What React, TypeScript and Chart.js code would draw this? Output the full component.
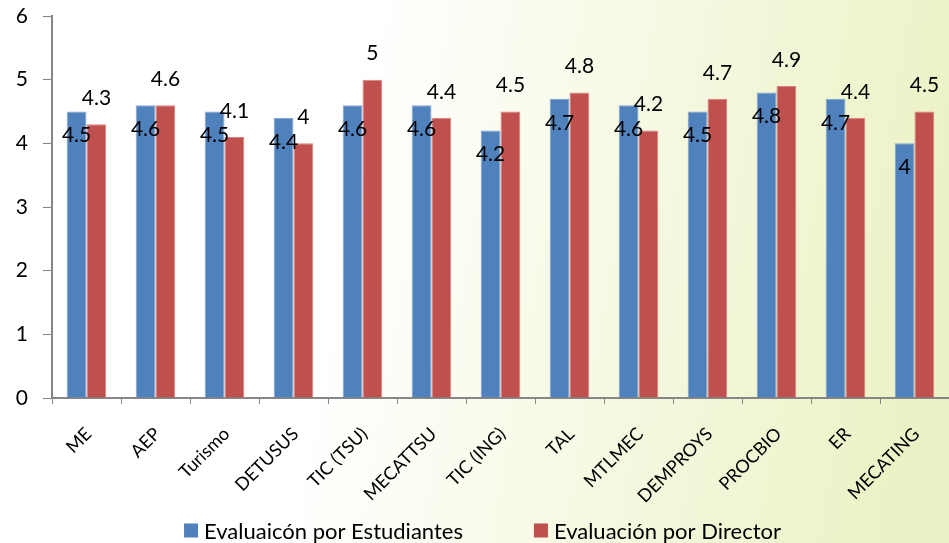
import React, { useEffect, useRef } from "react";
import { Chart, registerables } from "chart.js";

Chart.register(...registerables);

const categories = ["ME", "AEP", "Turismo", "DETUSUS", "TIC (TSU)", "MECATTSU", "TIC (ING)", "TAL", "MTLMEC", "DEMPROYS", "PROCBIO", "ER", "MECATING"];
const estudiantes = [4.5, 4.6, 4.5, 4.4, 4.6, 4.6, 4.2, 4.7, 4.6, 4.5, 4.8, 4.7, 4.0];
const director = [4.3, 4.6, 4.1, 4.0, 5.0, 4.4, 4.5, 4.8, 4.2, 4.7, 4.9, 4.4, 4.5];
const seriesNames = ["Evaluaicón por Estudiantes", "Evaluación por Director"];
const yMin = 0;
const yMax = 6;

const BLUE = "#4F81BD";
const RED = "#C0504D";
const FONT = "Lato, 'Open Sans', sans-serif";

const bgPlugin = {
  id: "bg",
  beforeDraw(chart: any) {
    const { ctx, width, height } = chart;
    ctx.save();
    const g = ctx.createLinearGradient(0, 0, width, height * 0.3);
    g.addColorStop(0, "#FFFFFF");
    g.addColorStop(0.38, "#FFFFFF");
    g.addColorStop(0.62, "#F8FAE8");
    g.addColorStop(1, "#ECF2C6");
    ctx.fillStyle = g;
    ctx.fillRect(0, 0, width, height);
    ctx.restore();
  },
};

const xLabelPlugin = {
  id: "xLabels",
  afterDraw(chart: any) {
    const { ctx, chartArea } = chart;
    const xs = chart.scales.x;
    ctx.save();
    ctx.font = `18px ${FONT}`;
    ctx.fillStyle = "#000";
    ctx.textAlign = "right";
    ctx.textBaseline = "middle";
    categories.forEach((c, i) => {
      const x = xs.getPixelForTick(i) + 2;
      const y = chartArea.bottom + 33;
      ctx.save();
      ctx.translate(x, y);
      ctx.rotate(-Math.PI / 4);
      ctx.fillText(c, 0, 0);
      ctx.restore();
    });
    ctx.restore();
  },
};

const labelPlugin = {
  id: "vals",
  afterDatasetsDraw(chart: any) {
    const { ctx } = chart;
    ctx.save();
    ctx.font = `21px ${FONT}`;
    ctx.fillStyle = "#000";
    ctx.textAlign = "center";
    ctx.textBaseline = "middle";
    chart.data.datasets.forEach((ds: any, di: number) => {
      const meta = chart.getDatasetMeta(di);
      meta.data.forEach((el: any, i: number) => {
        const v = ds.data[i];
        const y = di === 0 ? el.y + 24 : el.y - 26;
        ctx.fillText(String(v), el.x, y);
      });
    });
    ctx.restore();
  },
};

const legendPlugin = {
  id: "legendCustom",
  afterDraw(chart: any) {
    const { ctx } = chart;
    ctx.save();
    ctx.font = `22px ${FONT}`;
    ctx.textBaseline = "middle";
    ctx.textAlign = "left";
    const box = 14;
    const gapText = 6;
    const gapItems = 71;
    const colors = [BLUE, RED];
    const widths = seriesNames.map((n) => box + gapText + ctx.measureText(n).width);
    const total = widths[0] + widths[1] + gapItems;
    let x = 482.5 - total / 2;
    const cy = 530.5;
    seriesNames.forEach((n, i) => {
      ctx.fillStyle = colors[i];
      ctx.fillRect(x, cy - box / 2, box, box);
      ctx.fillStyle = "#000";
      ctx.fillText(n, x + box + gapText, cy + 1);
      x += widths[i] + gapItems;
    });
    ctx.restore();
  },
};

export default function App() {
  const ref = useRef<HTMLCanvasElement>(null);
  useEffect(() => {
    document.body.style.margin = "0";
    const chart = new Chart(ref.current!, {
      type: "bar",
      data: {
        labels: categories,
        datasets: [
          {
            label: seriesNames[0],
            data: estudiantes,
            backgroundColor: BLUE,
            borderColor: "#7FA3D0",
            borderWidth: 1,
            categoryPercentage: 0.574,
            barPercentage: 1,
          },
          {
            label: seriesNames[1],
            data: director,
            backgroundColor: RED,
            borderColor: "#D7807E",
            borderWidth: 1,
            categoryPercentage: 0.574,
            barPercentage: 1,
          },
        ],
      },
      options: {
        animation: false,
        responsive: false,
        devicePixelRatio: 1,
        layout: { padding: { top: 16, left: 0, right: 0, bottom: 0 } },
        plugins: { legend: { display: false }, tooltip: { enabled: false } },
        scales: {
          x: {
            grid: {
              display: true,
              drawOnChartArea: false,
              drawTicks: true,
              tickLength: 6,
              color: "#868686",
              offset: true,
            },
            border: { display: true, color: "#868686", width: 2 },
            ticks: { display: false },
            afterFit(scale: any) {
              scale.height = 145;
              scale.paddingLeft = 0;
              scale.paddingRight = 0;
            },
          },
          y: {
            min: yMin,
            max: yMax,
            ticks: {
              stepSize: 1,
              color: "#000",
              font: { family: FONT, size: 21 },
              padding: 15,
            },
            grid: {
              display: true,
              drawOnChartArea: false,
              drawTicks: true,
              tickLength: 9,
              color: "#868686",
            },
            border: { display: true, color: "#868686", width: 2 },
            afterFit(scale: any) {
              scale.width = 52;
              scale.paddingTop = 0;
              scale.paddingBottom = 0;
            },
          },
        },
      },
      plugins: [bgPlugin, labelPlugin, xLabelPlugin, legendPlugin],
    });
    return () => chart.destroy();
  }, []);
  return (
    <canvas
      ref={ref}
      width={949}
      height={543}
      style={{ position: "absolute", left: 0, top: 0, display: "block" }}
    />
  );
}
